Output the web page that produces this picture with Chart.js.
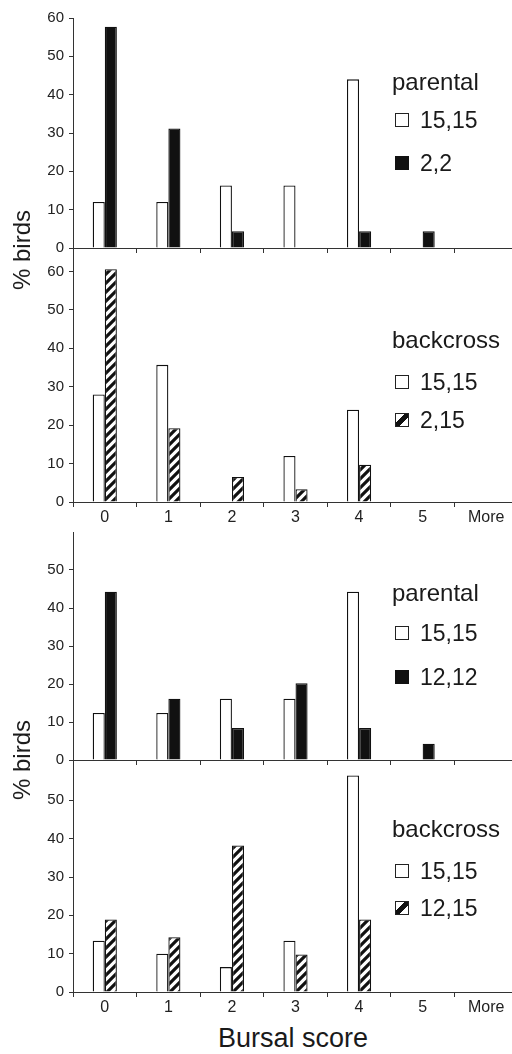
<html>
<head>
<script src="https://cdn.jsdelivr.net/npm/chart.js@4.4.0/dist/chart.umd.min.js"></script>
<style>
  body { margin: 0; overflow: hidden; background: #fff; font-family: "Liberation Sans", Arial, sans-serif; color: #1a1a1a; }
  #page { position: relative; width: 512px; height: 1054px; overflow: hidden; }
  .panel { position: absolute; left: 0; }
  .lg { position: absolute; left: 392px; font-size: 23px; height: 30px; line-height: 30px; white-space: nowrap; }
  .lg.head { font-size: 24px; }
  .sw { display: inline-block; width: 12px; height: 12px; border: 1px solid #222; margin: 0 11px 0 3px; position: relative; top: -1px; }
  .sw.white { background: #fff; }
  .sw.black { background: #111; border-color: #111; }
  .sw.hatch { background: linear-gradient(135deg, #fff 34%, #111 34%, #111 66%, #fff 66%); }
  .axtitle { position: absolute; font-size: 24px; white-space: nowrap; transform: translate(-50%, -50%); }
  .axtitle.rot { transform: translate(-50%, -50%) rotate(-90deg); }
  .axtitle.big { font-size: 27px; }
</style>
</head>
<body>
<div id="page"></div>

<script>
// bursal score categories
const categories = ['0', '1', '2', '3', '4', '5', 'More'];
const ticksFull = [0, 10, 20, 30, 40, 50, 60];
const ticksShort = [0, 10, 20, 30, 40, 50];

// % birds per score
const parentalA_15 = [12, 12, 16.3, 16.3, 44, 0, 0];
const parentalA_2 = [57.7, 31.2, 4.4, 0, 4.4, 4.4, 0];
const backcrossA_15 = [28, 35.7, 0, 12, 24, 0, 0];
const backcrossA_215 = [60.6, 19.2, 6.5, 3.3, 9.7, 0, 0];
const parentalB_15 = [12.4, 12.4, 16.1, 16.1, 44.3, 0, 0];
const parentalB_12 = [44.3, 16.1, 8.4, 20.2, 8.4, 4.3, 0];
const backcrossB_15 = [13.4, 10, 6.5, 13.4, 56.5, 0, 0];
const backcrossB_1215 = [18.9, 14.3, 38.2, 9.8, 18.9, 0, 0];

const groupNames = ['parental', 'backcross', 'parental', 'backcross'];
const seriesNames = [['15,15', '2,2'], ['15,15', '2,15'], ['15,15', '12,12'], ['15,15', '12,15']];

const FONT = '"Liberation Sans", Arial, sans-serif';
const PADT = 12;
const page = document.getElementById('page');

// hatch pattern for the backcross hybrids
function makeHatch() {
    const c = document.createElement('canvas');
    c.width = 9; c.height = 9;
    const g = c.getContext('2d');
    g.fillStyle = '#fff';
    g.fillRect(0, 0, 9, 9);
    g.strokeStyle = '#111';
    g.lineWidth = 3.2;
    g.beginPath();
    g.moveTo(-3, 3); g.lineTo(3, -3);
    g.moveTo(0, 9); g.lineTo(9, 0);
    g.moveTo(6, 12); g.lineTo(12, 6);
    g.stroke();
    return g.createPattern(c, 'repeat');
}
const hatch = makeHatch();

function panel(top, bottom, max, yticks, showX, a, b, kind, idx, legendY) {
    const xh = showX ? 30 : 14;
    const div = document.createElement('div');
    div.className = 'panel';
    div.style.top = (top - PADT) + 'px';
    const cv = document.createElement('canvas');
    cv.width = 518;
    cv.height = bottom - top + PADT + xh;
    div.appendChild(cv);
    page.appendChild(div);

    new Chart(cv, {
        type: 'bar',
        data: {
            labels: categories,
            datasets: [{
                label: seriesNames[idx][0],
                data: a,
                backgroundColor: '#fff',
                borderColor: '#111',
                borderWidth: 1.3,
                borderSkipped: 'bottom'
            }, {
                label: seriesNames[idx][1],
                data: b,
                backgroundColor: kind == 'hatch' ? hatch : '#111',
                borderColor: '#111',
                borderWidth: 1.3,
                borderSkipped: 'bottom'
            }]
        },
        options: {
            responsive: false,
            animation: false,
            layout: { padding: { top: PADT, left: 0, right: 0, bottom: 0 } },
            plugins: { legend: { display: false }, tooltip: { enabled: false } },
            datasets: { bar: { categoryPercentage: 0.38, barPercentage: 1 } },
            scales: {
                x: {
                    offset: true,
                    grid: { offset: true, drawOnChartArea: false, tickLength: 5, color: '#333' },
                    border: { color: '#333', width: 1 },
                    ticks: { display: showX, font: { size: 16, family: FONT }, color: '#222', padding: 1, maxRotation: 0, autoSkip: false },
                    afterFit: s => { s.height = xh; }
                },
                y: {
                    min: 0,
                    max: max,
                    grid: { drawOnChartArea: false, tickLength: 4, color: '#333' },
                    border: { color: '#333', width: 1 },
                    ticks: { font: { size: 15, family: FONT }, color: '#222', padding: 5 },
                    afterBuildTicks: s => { s.ticks = yticks.map(v => ({ value: v })); },
                    afterFit: s => { s.width = 73; }
                }
            }
        }
    });

    // legend as html
    const t = document.createElement('div');
    t.className = 'lg head';
    t.style.top = (legendY[0] - 15) + 'px';
    t.textContent = groupNames[idx];
    page.appendChild(t);
    for (let i = 0; i < 2; i++) {
        const it = document.createElement('div');
        it.className = 'lg';
        it.style.top = (legendY[i + 1] - 15) + 'px';
        const sw = document.createElement('span');
        sw.className = 'sw ' + (i == 0 ? 'white' : kind);
        it.appendChild(sw);
        it.appendChild(document.createTextNode(seriesNames[idx][i]));
        page.appendChild(it);
    }
}

panel(16, 248, 60, ticksFull, false, parentalA_15, parentalA_2, 'black', 0, [82, 120, 163]);
panel(248, 502, 65.6, ticksFull, true, backcrossA_15, backcrossA_215, 'hatch', 1, [340, 382, 420]);
panel(530, 760, 60, ticksShort, false, parentalB_15, parentalB_12, 'black', 2, [593, 633, 677]);
panel(760, 992, 60, ticksShort, true, backcrossB_15, backcrossB_1215, 'hatch', 3, [829, 871, 908]);

function axisTitle(text, x, y, cls) {
    const d = document.createElement('div');
    d.className = 'axtitle ' + cls;
    d.style.left = x + 'px';
    d.style.top = y + 'px';
    d.textContent = text;
    page.appendChild(d);
}
axisTitle('% birds', 22, 250, 'rot');
axisTitle('% birds', 22, 760, 'rot');
axisTitle('Bursal score', 293, 1038, 'big');
</script>
</body>
</html>
